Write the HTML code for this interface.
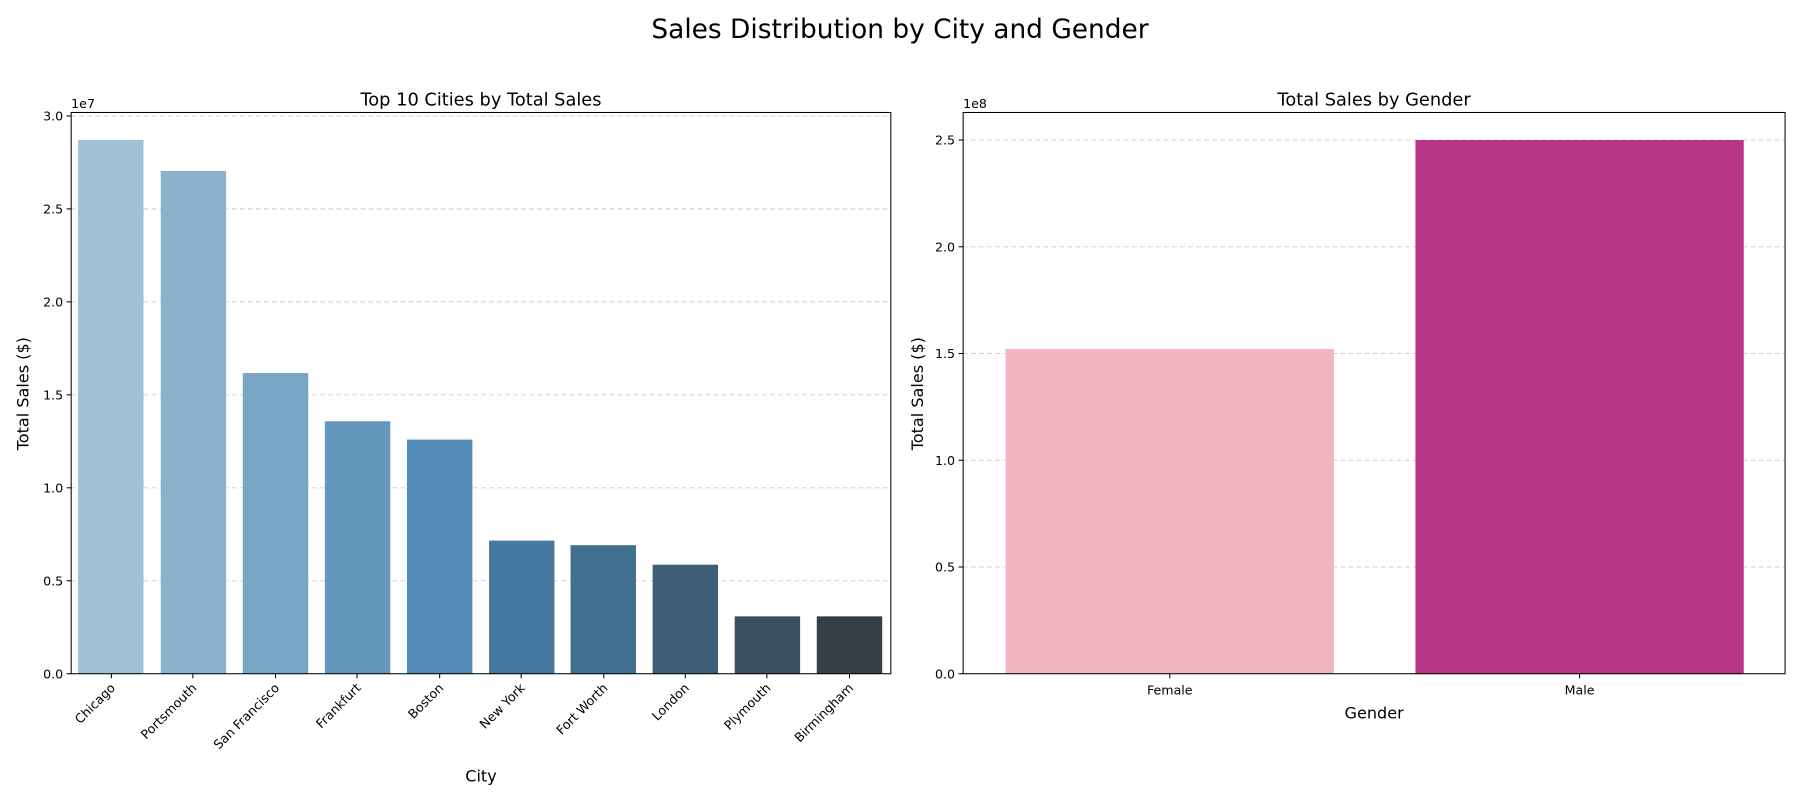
<!DOCTYPE html>
<html><head><meta charset="utf-8"><style>html,body{margin:0;padding:0;background:#fff}svg{display:block}</style></head>
<body>
<svg width="1800" height="800" viewBox="0 0 1568 697" preserveAspectRatio="none" xmlns="http://www.w3.org/2000/svg" font-family="DejaVu Sans, Liberation Sans, sans-serif">
<text x="784" y="33" font-size="23" text-anchor="middle">Sales Distribution by City and Gender</text>
<!-- Left -->
<text x="419" y="92" font-size="15.5" text-anchor="middle">Top 10 Cities by Total Sales</text>
<g stroke="#ccc" stroke-dasharray="4,3" stroke-width="0.8">
<line x1="62" x2="776" y1="506" y2="506"/><line x1="62" x2="776" y1="425" y2="425"/><line x1="62" x2="776" y1="344" y2="344"/><line x1="62" x2="776" y1="263" y2="263"/><line x1="62" x2="776" y1="182" y2="182"/><line x1="62" x2="776" y1="101" y2="101"/>
</g>
<rect x="68" y="122" width="57" height="465" fill="#a1c1d7"/>
<rect x="140" y="149" width="57" height="438" fill="#8cb1cc"/>
<rect x="211.5" y="325" width="57" height="262" fill="#79a6c5"/>
<rect x="283" y="367" width="57" height="220" fill="#6698bd"/>
<rect x="354.5" y="383" width="57" height="204" fill="#528bb6"/>
<rect x="426" y="471" width="57" height="116" fill="#447aa0"/>
<rect x="497" y="475" width="57" height="112" fill="#416f8e"/>
<rect x="568.5" y="492" width="57" height="95" fill="#3e5e77"/>
<rect x="640" y="537" width="57" height="50" fill="#3b4f62"/>
<rect x="711.5" y="537" width="57" height="50" fill="#373f46"/>
<rect x="62" y="98" width="714" height="489" fill="none" stroke="#000" stroke-width="0.9"/>
<g font-size="11" text-anchor="end">
<text x="55" y="591">0.0</text><text x="55" y="510">0.5</text><text x="55" y="429">1.0</text><text x="55" y="348">1.5</text><text x="55" y="267">2.0</text><text x="55" y="186">2.5</text><text x="55" y="105">3.0</text>
</g>
<g stroke="#000" stroke-width="0.9">
<line x1="58" x2="62" y1="587" y2="587"/><line x1="58" x2="62" y1="506" y2="506"/><line x1="58" x2="62" y1="425" y2="425"/><line x1="58" x2="62" y1="344" y2="344"/><line x1="58" x2="62" y1="263" y2="263"/><line x1="58" x2="62" y1="182" y2="182"/><line x1="58" x2="62" y1="101" y2="101"/>
<line x1="97" x2="97" y1="587" y2="591"/><line x1="168" x2="168" y1="587" y2="591"/><line x1="240" x2="240" y1="587" y2="591"/><line x1="311" x2="311" y1="587" y2="591"/><line x1="383" x2="383" y1="587" y2="591"/><line x1="454" x2="454" y1="587" y2="591"/><line x1="526" x2="526" y1="587" y2="591"/><line x1="597" x2="597" y1="587" y2="591"/><line x1="668" x2="668" y1="587" y2="591"/><line x1="740" x2="740" y1="587" y2="591"/>
</g>
<text x="62" y="94" font-size="11">1e7</text>
<g font-size="11" text-anchor="end">
<text transform="translate(101,600) rotate(-45)">Chicago</text>
<text transform="translate(172,600) rotate(-45)">Portsmouth</text>
<text transform="translate(244,600) rotate(-45)">San Francisco</text>
<text transform="translate(315,600) rotate(-45)">Frankfurt</text>
<text transform="translate(387,600) rotate(-45)">Boston</text>
<text transform="translate(458,600) rotate(-45)">New York</text>
<text transform="translate(530,600) rotate(-45)">Fort Worth</text>
<text transform="translate(601,600) rotate(-45)">London</text>
<text transform="translate(672,600) rotate(-45)">Plymouth</text>
<text transform="translate(744,600) rotate(-45)">Birmingham</text>
</g>
<text x="419" y="681" font-size="14" text-anchor="middle">City</text>
<text transform="translate(25,343) rotate(-90)" font-size="14" text-anchor="middle">Total Sales ($)</text>
<!-- Right -->
<text x="1197" y="92" font-size="15.5" text-anchor="middle">Total Sales by Gender</text>
<g stroke="#ccc" stroke-dasharray="4,3" stroke-width="0.8">
<line x1="839" x2="1555" y1="494" y2="494"/><line x1="839" x2="1555" y1="401" y2="401"/><line x1="839" x2="1555" y1="308" y2="308"/><line x1="839" x2="1555" y1="215" y2="215"/><line x1="839" x2="1555" y1="122" y2="122"/>
</g>
<rect x="876" y="304" width="286" height="283" fill="#f0b5c0"/>
<rect x="1233" y="122" width="286" height="465" fill="#b73786"/>
<rect x="839" y="98" width="716" height="489" fill="none" stroke="#000" stroke-width="0.9"/>
<g font-size="11" text-anchor="end">
<text x="832" y="591">0.0</text><text x="832" y="498">0.5</text><text x="832" y="405">1.0</text><text x="832" y="312">1.5</text><text x="832" y="219">2.0</text><text x="832" y="126">2.5</text>
</g>
<g stroke="#000" stroke-width="0.9">
<line x1="835" x2="839" y1="587" y2="587"/><line x1="835" x2="839" y1="494" y2="494"/><line x1="835" x2="839" y1="401" y2="401"/><line x1="835" x2="839" y1="308" y2="308"/><line x1="835" x2="839" y1="215" y2="215"/><line x1="835" x2="839" y1="122" y2="122"/>
<line x1="1019" x2="1019" y1="587" y2="591"/><line x1="1376" x2="1376" y1="587" y2="591"/>
</g>
<text x="839" y="94" font-size="11">1e8</text>
<text x="1019" y="605" font-size="11" text-anchor="middle">Female</text>
<text x="1376" y="605" font-size="11" text-anchor="middle">Male</text>
<text x="1197" y="626" font-size="14" text-anchor="middle">Gender</text>
<text transform="translate(804,343) rotate(-90)" font-size="14" text-anchor="middle">Total Sales ($)</text>
</svg>
</body></html>
